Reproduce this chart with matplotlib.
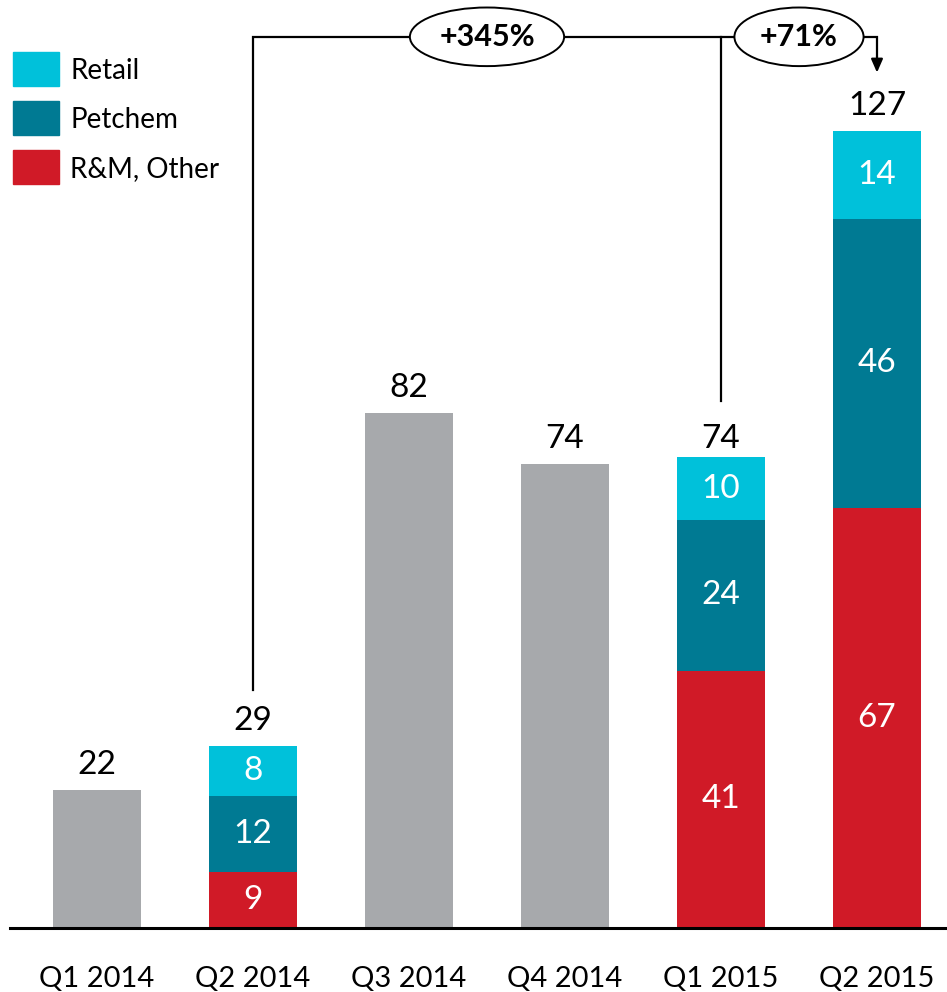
import matplotlib.pyplot as plt
from matplotlib.patches import Rectangle

plt.rcParams['font.family'] = ['Lato', 'DejaVu Sans']

quarters = ['Q1 2014', 'Q2 2014', 'Q3 2014', 'Q4 2014', 'Q1 2015', 'Q2 2015']
totals = [22, 29, 82, 74, 74, 127]
# segment split only known for some quarters (None = grey total bar)
rm_other = [None, 9, None, None, 41, 67]
petchem = [None, 12, None, None, 24, 46]
retail = [None, 8, None, None, 10, 14]
growth_labels = ['+345%', '+71%']

c_retail = '#00C1DA'
c_petchem = '#007A93'
c_rm = '#D01A27'
c_grey = '#A7A9AC'

W, H = 947, 992
fig = plt.figure(figsize=(W / 100, H / 100), dpi=100)
ax = fig.add_axes([0, 64 / H, 1, (H - 64) / H])
ax.set_xlim(-97 / 156, (W - 97) / 156)
ax.set_ylim(0, (H - 64) / 6.276)
ax.axis('off')

bw = 88 / 156
x = list(range(len(quarters)))
for i in x:
    if rm_other[i] is None:
        ax.bar(i, totals[i], bw, color=c_grey)
    else:
        bottom = 0
        for val, col in [(rm_other[i], c_rm), (petchem[i], c_petchem), (retail[i], c_retail)]:
            ax.bar(i, val, bw, bottom=bottom, color=col)
            ax.text(i, bottom + val / 2, str(val), ha='center', va='center',
                    color='white', fontsize=24)
            bottom += val
    ax.text(i, totals[i] + 1.6, str(totals[i]), ha='center', va='bottom',
            fontsize=24, color='black')
    ax.text(i, -8.1, quarters[i], ha='center', va='center', fontsize=21)

# baseline
ax.plot([-0.56, 6], [0, 0], color='black', lw=2.2, clip_on=False)

# growth brackets
top = max(totals) + 15
ax.plot([1, 1, 5, 5], [totals[1] + 9, top, top, top - 3], color='black', lw=1.6,
        solid_joinstyle='miter')
ax.plot([4, 4], [totals[4] + 10, top], color='black', lw=1.6)
ax.annotate('', xy=(5, totals[5] + 9.3), xytext=(5, top - 3.2),
            arrowprops=dict(arrowstyle='-|>,head_width=0.35,head_length=0.8',
                            color='black', lw=1.6, shrinkA=0, shrinkB=0))
for xc, lab in [(2.5, growth_labels[0]), (4.5, growth_labels[1])]:
    ax.text(xc, top, lab, ha='center', va='center', fontsize=22, fontweight='bold',
            bbox=dict(boxstyle='ellipse,pad=0.22', fc='white', ec='black', lw=1.4))

# legend
for k, (lab, col) in enumerate([('Retail', c_retail), ('Petchem', c_petchem),
                                ('R&M, Other', c_rm)]):
    y0 = 52 + 49 * k
    fig.add_artist(Rectangle((13 / W, 1 - (y0 + 34) / H), 46 / W, 34 / H,
                             transform=fig.transFigure, color=col))
    fig.text(70 / W, 1 - (y0 + 19) / H, lab, fontsize=20, va='center', ha='left')

fig.savefig('out.png', dpi=100, facecolor='white')
